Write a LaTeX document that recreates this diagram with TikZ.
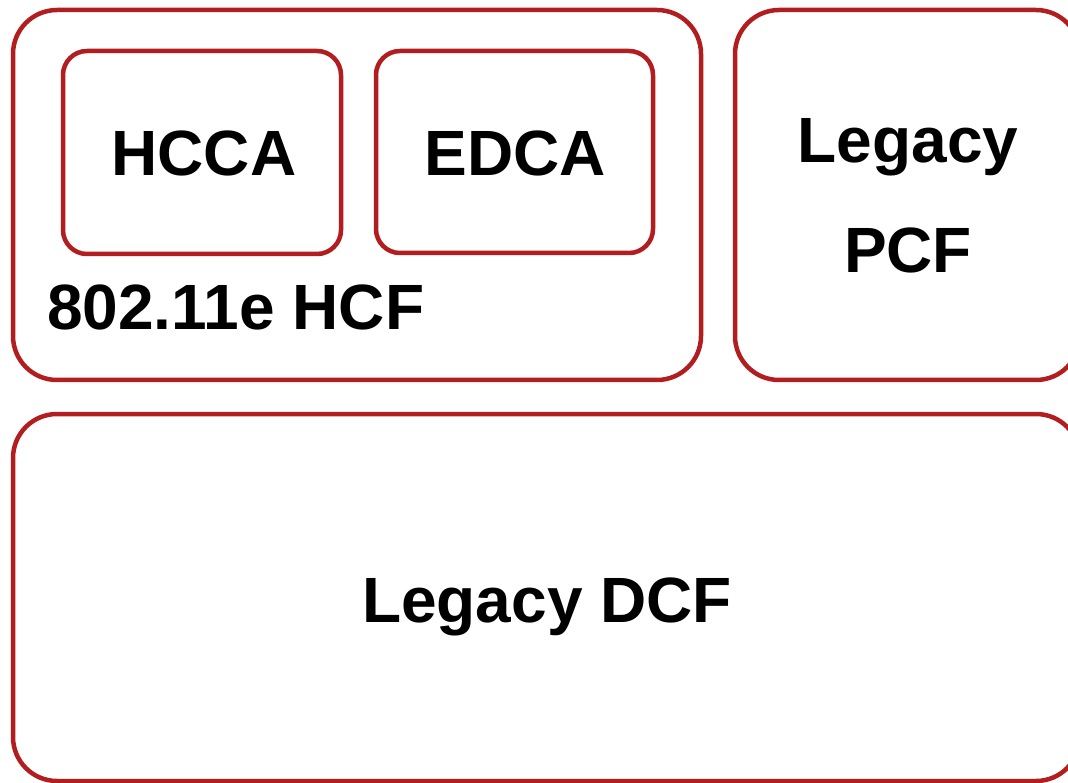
\documentclass[tikz,border=0pt]{standalone}
\usepackage{fontspec}
\setmainfont{Liberation Sans}
\definecolor{boxred}{RGB}{178,30,32}
\begin{document}
\begin{tikzpicture}[x=1pt,y=-1pt,
  frame/.style={draw=boxred,line width=4.5pt,rounded corners=#1},
  lbl/.style={font=\fontsize{64}{77}\selectfont\bfseries,anchor=base,inner sep=0pt}]
\useasboundingbox (0,0) rectangle (1068,783);
\clip (0,0) rectangle (1068,783);
% outer HCF box
\draw[frame=44pt] (13,10) rectangle (701,380);
\node[lbl,anchor=base west] (hcf) at (47,330) {802.11e HCF};
% HCCA
\draw[frame=24pt] (63,51) rectangle (341,254);
\node[lbl] (hcca) at (204,176) {HCCA};
% EDCA
\draw[frame=24pt] (376,51) rectangle (653,253);
\node[lbl] (edca) at (515,176) {EDCA};
% Legacy PCF
\draw[frame=44pt] (735,10) rectangle (1080,380);
\node[lbl] (pcf1) at (908,163) {Legacy};
\node[lbl] (pcf2) at (908,273) {PCF};
% Legacy DCF
\draw[frame=44pt] (13,414) rectangle (1080,781);
\node[lbl] (dcf) at (547,622) {Legacy DCF};
\end{tikzpicture}
\end{document}
